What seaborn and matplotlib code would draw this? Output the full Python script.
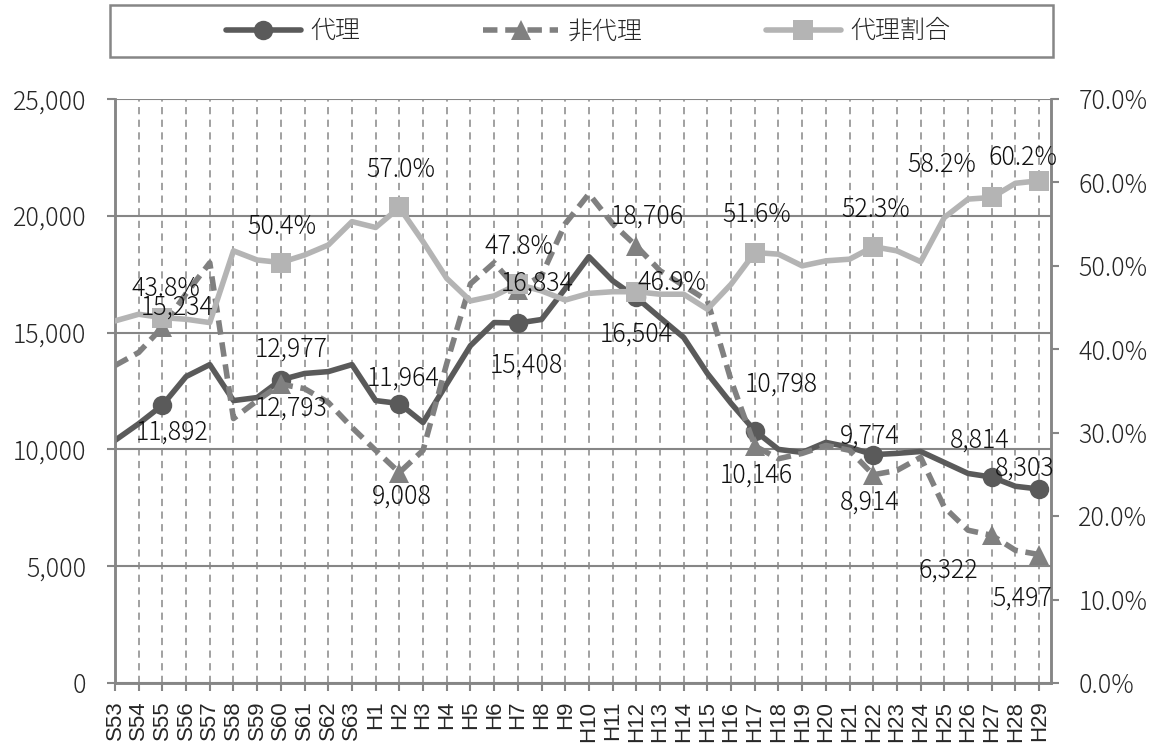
import pandas as pd
import matplotlib
matplotlib.use('Agg')
import matplotlib.pyplot as plt
import matplotlib.ticker as mticker
from matplotlib.lines import Line2D
from matplotlib.patches import Rectangle
import seaborn as sns

# categories (Showa 53 .. Heisei 29)
years = ['S53', 'S54', 'S55', 'S56', 'S57', 'S58', 'S59', 'S60', 'S61', 'S62', 'S63',
         'H1', 'H2', 'H3', 'H4', 'H5', 'H6', 'H7', 'H8', 'H9', 'H10',
         'H11', 'H12', 'H13', 'H14', 'H15', 'H16', 'H17', 'H18', 'H19', 'H20',
         'H21', 'H22', 'H23', 'H24', 'H25', 'H26', 'H27', 'H28', 'H29']

dairi = [10385, 11100, 11892, 13120, 13630, 12090, 12220, 12977, 13250, 13330, 13630,
         12090, 11964, 11150, 12800, 14440, 15430, 15408, 15560, 16880, 18250,
         17220, 16504, 15640, 14790, 13250, 11970, 10798, 10000, 9870, 10300,
         10090, 9774, 9830, 9910, 9440, 8970, 8814, 8420, 8303]

hidairi = [13590, 14150, 15234, 16670, 17990, 11320, 12090, 12793, 12600, 12010, 10940,
           9960, 9008, 9960, 13680, 17090, 17990, 16834, 17440, 19660, 20940,
           19660, 18706, 17650, 17010, 16370, 12950, 10146, 9600, 9830, 10170,
           9960, 8914, 9100, 9660, 7520, 6540, 6322, 5680, 5497]

ratio = [43.4, 44.2, 43.8, 43.6, 43.2, 51.8, 50.7, 50.4, 51.3, 52.5, 55.3,
         54.6, 57.0, 52.9, 48.5, 45.8, 46.4, 47.8, 47.0, 45.9, 46.7,
         46.9, 46.9, 46.6, 46.6, 44.8, 47.8, 51.6, 51.4, 50.0, 50.6,
         50.8, 52.3, 51.8, 50.5, 55.8, 58.0, 58.2, 59.9, 60.2]

label_idx = [2, 7, 12, 17, 22, 27, 32, 37, 39]

# label offsets in pixels (dx, dy) from the marker
off_dairi = [(10, 27), (10, -30), (4, -25), (9, 42), (0, 37), (26, -46), (-4, -18), (-12, -37), (-14, -21)]
off_hidairi = [(15, -20), (10, 24), (2, 24), (19, -6), (11, -30), (2, 29), (-4, 28), (-43, 35), (-17, 44)]
off_ratio = [(4, -29), (1, -36), (1, -38), (1, -37), (36, -9), (2, -38), (2, -37), (-50, -33), (-16, -23)]

c_dairi = '#5a5a5a'
c_hidairi = '#808080'
c_ratio = '#b4b4b4'
c_axis = '#868686'

sns.set_theme(style='white')
plt.rcParams['font.family'] = ['Noto Sans CJK JP', 'DejaVu Sans']
plt.rcParams['font.weight'] = 'light'

df = pd.DataFrame({'x': range(len(years)), '代理': dairi, '非代理': hidairi, '代理割合': ratio})

W, H = 1163, 751
fig = plt.figure(figsize=(W / 100, H / 100), dpi=100)
ax = fig.add_axes([115 / W, 1 - 683 / H, (1051 - 115) / W, (683 - 99) / H])
ax2 = ax.twinx()

dash = (0, (2.6, 1.4))
sns.lineplot(data=df, x='x', y='代理', ax=ax, color=c_dairi, lw=4, marker='o',
             markersize=14, markeredgewidth=0, markevery=label_idx, legend=False, zorder=3)
sns.lineplot(data=df, x='x', y='非代理', ax=ax, color=c_hidairi, lw=4, linestyle=dash, marker='^',
             markersize=15, markeredgewidth=0, markevery=label_idx, legend=False, zorder=4)
sns.lineplot(data=df, x='x', y='代理割合', ax=ax2, color=c_ratio, lw=4, marker='s',
             markersize=14, markeredgewidth=0, markevery=label_idx, legend=False, zorder=3)

ax.set_xlim(0, 39.5)
ax.set_ylim(0, 25000)
ax2.set_ylim(0, 70)
ax.set_yticks(range(0, 25001, 5000))
ax2.set_yticks(range(0, 71, 10))
ax.yaxis.set_major_formatter(mticker.StrMethodFormatter('{x:,.0f}'))
ax2.yaxis.set_major_formatter(mticker.FuncFormatter(lambda v, p: f'{v:.1f}%'))
ax.set_xticks(range(len(years)))
ax.set_xticklabels(years, rotation=90, fontfamily='Liberation Sans', fontsize=16, fontweight='normal')
for a in (ax, ax2):
    a.set_xlabel('')
    a.set_ylabel('')

ax.grid(axis='y', color=c_axis, lw=1.5)
ax.grid(axis='x', color='#9a9a9a', lw=1.3, linestyle=(0, (4, 3)))
ax.set_axisbelow(True)

for a in (ax, ax2):
    for s in a.spines.values():
        s.set_color(c_axis)
        s.set_linewidth(1.8)
    a.spines['top'].set_visible(False)

tick_len = 8 * 0.72
ax.tick_params(axis='x', bottom=True, length=tick_len, width=1.5, color=c_axis, pad=7)
ax.tick_params(axis='y', left=True, length=tick_len, width=1.5, color=c_axis, labelsize=18, pad=15)
ax2.tick_params(axis='y', right=True, length=tick_len, width=1.5, color=c_axis, labelsize=18, pad=14)

# data labels, drawn on ax2 so they sit above every line
for k, i in enumerate(label_idx):
    dx, dy = off_dairi[k]
    ax2.annotate(f'{dairi[i]:,}', xy=(i, dairi[i]), xycoords=ax.transData,
                 xytext=(dx * 0.72, -dy * 0.72), textcoords='offset points',
                 ha='center', va='center', fontsize=18, color='#111111')
    dx, dy = off_hidairi[k]
    ax2.annotate(f'{hidairi[i]:,}', xy=(i, hidairi[i]), xycoords=ax.transData,
                 xytext=(dx * 0.72, -dy * 0.72), textcoords='offset points',
                 ha='center', va='center', fontsize=18, color='#111111')
    dx, dy = off_ratio[k]
    ax2.annotate(f'{ratio[i]:.1f}%', xy=(i, ratio[i]),
                 xytext=(dx * 0.72, -dy * 0.72), textcoords='offset points',
                 ha='center', va='center', fontsize=18, color='#111111')

handles = [
    Line2D([], [], color=c_dairi, lw=4, marker='o', markersize=14, markeredgewidth=0),
    Line2D([], [], color=c_hidairi, lw=4, linestyle=dash, marker='^', markersize=15, markeredgewidth=0),
    Line2D([], [], color=c_ratio, lw=4, marker='s', markersize=14, markeredgewidth=0),
]
fig.legend(handles, ['代理', '非代理', '代理割合'], loc='center', bbox_to_anchor=(588 / W, 1 - 31 / H),
           ncol=3, frameon=False, fontsize=18, handlelength=3, columnspacing=4.9, handletextpad=0.4)
fig.add_artist(Rectangle((110 / W, 1 - 57 / H), (1053 - 110) / W, 52 / H, transform=fig.transFigure,
                         fill=False, ec=c_axis, lw=1.8))

fig.savefig('out.png', dpi=100)
